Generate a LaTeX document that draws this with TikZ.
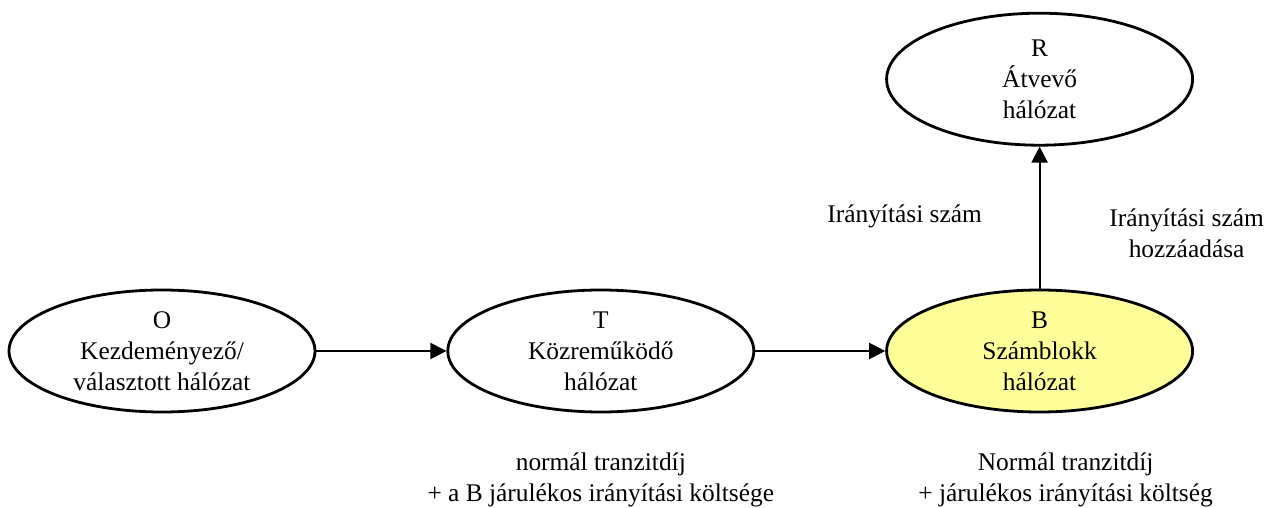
\documentclass[tikz,border=0pt]{standalone}
\usepackage{fontspec}
\setmainfont{Liberation Serif}
\usetikzlibrary{arrows.meta, chains, positioning, shapes.geometric}
\definecolor{blockyellow}{RGB}{255,255,153}

\begin{document}
\begin{tikzpicture}[
   start chain = going right,
   node distance = 65pt,
   font = \fontsize{12.7}{15.5}\selectfont,
   line width = 1.1pt,
   -{Triangle[length=8pt, width=8pt]},
   net/.style = {ellipse, draw, line width=1.4pt, align=center, inner sep=0pt,
                 minimum width=153pt, minimum height=61pt},
   cost/.style = {align=center}]
   \useasboundingbox (0,0) rectangle (632.5pt,-254pt);
   \node[net, on chain] (O) at (81pt,-175.5pt) {O\\Kezdeményező/\\választott hálózat};
   \node[net, on chain] (T) {T\\Közreműködő\\hálózat};
   \node[net, fill=blockyellow, on chain] (B) {B\\Számblokk\\hálózat};
   \node[net, minimum height=66pt, above=71pt of B] (R) {R\\Átvevő\\hálózat};

   \node[cost, below=16pt of T] (costT) {normál tranzitdíj\\+ a B járulékos irányítási költsége};
   \node[cost, below=16pt of B, xshift=13pt] (costB) {Normál tranzitdíj\\+ járulékos irányítási költség};

   \draw (O) edge (T);
   \draw (T) edge (B);
   \draw (B) edge node[pos=0.51, left=25pt]{Irányítási szám}
                  node[pos=0.39, right=31pt, align=center]{Irányítási szám\\hozzáadása} (R);
\end{tikzpicture}
\end{document}
